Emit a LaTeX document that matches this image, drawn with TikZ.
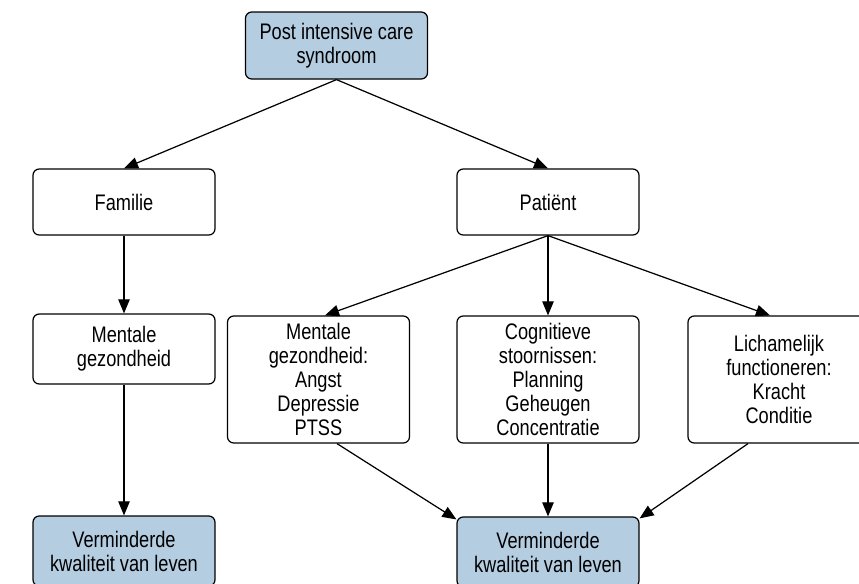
\documentclass[tikz,border=0pt]{standalone}
\usepackage{fontspec}
\setmainfont[FakeStretch=0.81]{Liberation Sans}
\usetikzlibrary{arrows.meta}

\definecolor{blokblauw}{RGB}{181,205,225}
\tikzset{
  vak/.style={draw, rounded corners=3.5pt, line width=0.7pt, align=center,
    minimum width=3.64cm, inner sep=2pt, font=\fontsize{12.8}{13.6}\selectfont},
  kop/.style={vak, fill=blokblauw},
  pijl/.style={-{Triangle[length=8pt,width=6.5pt]}, line width=0.7pt},
}

\begin{document}
\begin{tikzpicture}[x=0.02cm, y=-0.02cm]
        \useasboundingbox (0,0) rectangle (859,583);
        % bovenste blok
        \node[kop, minimum height=1.34cm] (pics) at (336.5,45.5) {Post intensive care\\syndroom};
        % tweede rij
        \node[vak, minimum height=1.32cm] (fam) at (124,202) {Familie};
        \node[vak, minimum height=1.32cm] (pat) at (548,202) {Pati\"ent};
        % derde rij
        \node[vak, minimum height=1.4cm] (ment) at (124,349) {Mentale\\gezondheid};
        \node[vak, minimum height=2.54cm] (mentp) at (318.5,379.5) {Mentale\\gezondheid:\\Angst\\Depressie\\PTSS};
        \node[vak, minimum height=2.54cm] (cogn) at (548,379.5) {Cognitieve\\stoornissen:\\Planning\\Geheugen\\Concentratie};
        \node[vak, minimum height=2.54cm] (lich) at (779,379.5) {Lichamelijk\\functioneren:\\Kracht\\Conditie};
        % onderste blokken
        \node[kop, minimum height=1.4cm] (uitf) at (124,551) {Verminderde\\kwaliteit van leven};
        \node[kop, minimum height=1.4cm] (uitp) at (548,552) {Verminderde\\kwaliteit van leven};

        \draw[pijl] (pics.south) -- (fam.north);
        \draw[pijl] (pics.south) -- (pat.north);
        \draw[pijl] (fam.south) -- (ment.north);
        \draw[pijl] (ment.south) -- (uitf.north);
        \draw[pijl] (pat.south) -- ([xshift=0.13cm]mentp.north);
        \draw[pijl] (pat.south) -- (cogn.north);
        \draw[pijl] (pat.south) -- ([xshift=-0.18cm]lich.north);
        \draw[pijl] ([xshift=0.37cm]mentp.south) -- ([yshift=-0.06cm]uitp.north west);
        \draw[pijl] (cogn.south) -- (uitp.north);
        \draw[pijl] ([xshift=-0.62cm]lich.south) -- ([yshift=-0.04cm]uitp.north east);
    \end{tikzpicture}
\end{document}
